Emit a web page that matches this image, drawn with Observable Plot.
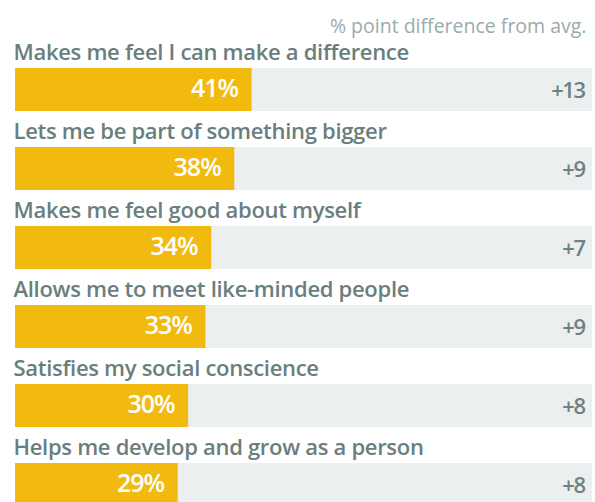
<!DOCTYPE html>
<html>
<head>
<meta charset="utf-8">
<script src="https://cdn.jsdelivr.net/npm/d3@7"></script>
<script src="https://cdn.jsdelivr.net/npm/@observablehq/plot@0.6"></script>
<style>
  html, body { margin: 0; padding: 0; background: #fff; }
  #chart { width: 595px; height: 502px; overflow: hidden; }
  svg { display: block; }
</style>
</head>
<body>
<div id="chart"></div>
<script>
const categories = [
  "Makes me feel I can make a difference",
  "Lets me be part of something bigger",
  "Makes me feel good about myself",
  "Allows me to meet like-minded people",
  "Satisfies my social conscience",
  "Helps me develop and grow as a person"
];
const values = [41, 38, 34, 33, 30, 28.2];
const pctLabels = ["41%", "38%", "34%", "33%", "30%", "29%"];
const diffLabels = ["+13", "+9", "+7", "+9", "+8", "+8"];
const headerText = "% point difference from avg.";

const data = categories.map((c, i) => ({cat: c, value: values[i], pct: pctLabels[i], diff: diffLabels[i]}));

const FONT = "'Open Sans', sans-serif";
const plot = Plot.plot({
  width: 595,
  height: 502,
  margin: 0,
  style: {fontFamily: FONT, background: "#fff"},
  x: {domain: [0, 100], range: [15, 592], axis: null},
  y: {domain: categories, range: [68, 506], paddingInner: 0.456, paddingOuter: 0, align: 0, axis: null},
  marks: [
    Plot.barX(data, {y: "cat", x1: 0, x2: 100, fill: "#ECEFF0"}),
    Plot.barX(data, {y: "cat", x1: 0, x2: "value", fill: "#F2B90F"}),
    Plot.text(data, {y: "cat", x: 0, text: "cat", textAnchor: "start", lineAnchor: "bottom", dx: -2, dy: -30.5,
      fill: "#6A7E7E", fontSize: 22, fontWeight: 600}),
    Plot.text(data, {y: "cat", x: "value", text: "pct", textAnchor: "end", lineAnchor: "bottom", dx: -14, dy: 7,
      fill: "#fff", fontSize: 25, fontWeight: 600}),
    Plot.text(data, {y: "cat", x: 100, text: "diff", textAnchor: "end", lineAnchor: "bottom", dx: -8, dy: 8,
      fill: "#6E8282", fontSize: 22, fontWeight: 600}),
    Plot.text([headerText], {x: 100, y: [categories[0]], text: d => d, textAnchor: "end", lineAnchor: "bottom",
      dx: -6, dy: -57.5, fill: "#9AABAB", fontSize: 19.5, fontWeight: 400})
  ]
});
const textGroups = plot.querySelectorAll('g[aria-label="text"]');
if (textGroups.length > 0) textGroups[0].setAttribute("letter-spacing", "-0.3");
if (textGroups.length > 1) textGroups[1].setAttribute("letter-spacing", "-1");
if (textGroups.length > 2) textGroups[2].setAttribute("letter-spacing", "-1.5");
document.getElementById("chart").appendChild(plot);
</script>
</body>
</html>
